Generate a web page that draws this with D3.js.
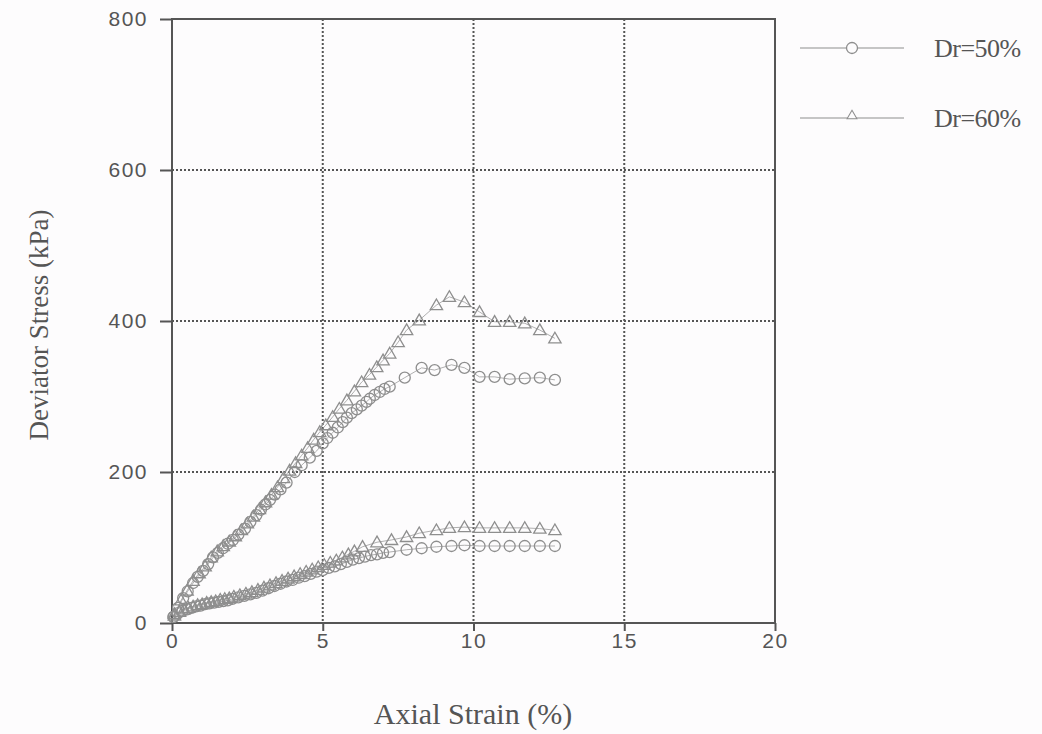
<!DOCTYPE html>
<html>
<head>
<meta charset="utf-8">
<script src="https://cdn.jsdelivr.net/npm/d3@7"></script>
<style>
	body { margin: 0; background: #fdfcfd; }
	svg { display: block; }
</style>
</head>
<body>
<svg id="chart" width="1042" height="734"></svg>
<script>
const xTicks = [0, 5, 10, 15, 20];
const yTicks = [0, 200, 400, 600, 800];

// Dr=50%, upper curve
const dr50HiStrain = [0.05, 0.2, 0.37, 0.52, 0.7, 0.85, 1.03, 1.2, 1.36, 1.52, 1.69, 1.85, 2.02, 2.2, 2.42, 2.6, 2.8, 2.95, 3.1, 3.25, 3.41, 3.6, 3.8, 4.07, 4.3, 4.57, 4.8, 5.0, 5.15, 5.33, 5.5, 5.66, 5.8, 5.96, 6.13, 6.29, 6.45, 6.56, 6.72, 6.89, 7.05, 7.22, 7.72, 8.28, 8.71, 9.27, 9.7, 10.2, 10.7, 11.2, 11.7, 12.2, 12.7];
const dr50HiStress = [8, 20, 33, 42, 53, 61, 69, 78, 87, 93, 99, 105, 110, 117, 125, 134, 143, 150, 157, 163, 170, 177, 186, 200, 209, 219, 228, 238, 245, 252, 259, 266, 272, 278, 283, 288, 293, 297, 302, 306, 310, 313, 325, 338, 335, 342, 338, 326, 326, 323, 324, 325, 322];

// Dr=50%, lower curve
const dr50LoStrain = [0.05, 0.2, 0.35, 0.5, 0.65, 0.8, 0.95, 1.1, 1.25, 1.4, 1.55, 1.7, 1.85, 2.0, 2.2, 2.4, 2.6, 2.8, 3.0, 3.2, 3.4, 3.6, 3.8, 4.0, 4.2, 4.4, 4.6, 4.8, 5.0, 5.2, 5.4, 5.6, 5.8, 6.0, 6.2, 6.4, 6.6, 6.8, 7.0, 7.22, 7.78, 8.28, 8.77, 9.27, 9.7, 10.2, 10.7, 11.2, 11.7, 12.2, 12.7];
const dr50LoStress = [8, 13, 16, 18, 20, 22, 23, 25, 26, 27, 28, 29, 30, 32, 34, 36, 38, 40, 43, 46, 49, 52, 55, 57, 60, 62, 65, 68, 70, 73, 75, 78, 81, 84, 86, 88, 90, 91, 93, 94, 97, 99, 101, 102, 103, 102, 102, 102, 102, 102, 102];

// Dr=60%, upper curve
const dr60HiStrain = [0.08, 0.3, 0.5, 0.7, 0.9, 1.1, 1.3, 1.5, 1.7, 1.9, 2.1, 2.3, 2.5, 2.7, 2.9, 3.1, 3.3, 3.5, 3.7, 3.9, 4.1, 4.3, 4.5, 4.7, 4.9, 5.1, 5.33, 5.55, 5.8, 6.05, 6.29, 6.55, 6.79, 7.0, 7.22, 7.5, 7.78, 8.2, 8.77, 9.2, 9.7, 10.2, 10.7, 11.2, 11.7, 12.2, 12.7];
const dr60HiStress = [12, 30, 43, 56, 66, 75, 87, 95, 102, 108, 115, 123, 132, 141, 151, 160, 170, 180, 192, 202, 212, 222, 232, 243, 253, 262, 273, 284, 295, 307, 319, 329, 339, 348, 357, 372, 388, 401, 421, 432, 425, 412, 399, 399, 397, 388, 377];

// Dr=60%, lower curve
const dr60LoStrain = [0.08, 0.25, 0.4, 0.55, 0.7, 0.85, 1.0, 1.15, 1.3, 1.45, 1.6, 1.75, 1.9, 2.05, 2.25, 2.45, 2.65, 2.85, 3.05, 3.25, 3.45, 3.65, 3.85, 4.05, 4.25, 4.45, 4.65, 4.85, 5.05, 5.25, 5.45, 5.65, 5.85, 6.05, 6.32, 6.8, 7.28, 7.78, 8.2, 8.77, 9.2, 9.7, 10.2, 10.7, 11.2, 11.7, 12.2, 12.7];
const dr60LoStress = [10, 15, 18, 20, 22, 24, 25, 27, 28, 29, 31, 32, 33, 35, 37, 39, 41, 44, 47, 50, 53, 56, 59, 62, 65, 68, 71, 74, 77, 80, 83, 87, 91, 95, 101, 107, 110, 114, 119, 123, 126, 127, 126, 126, 126, 126, 125, 123];

const legendLabels = ['Dr=50%', 'Dr=60%'];

const AXIS = '#555';
const MARK = '#8e8e8e';
const BG = '#fdfcfd';

const series = [
	{ strain: dr50HiStrain, stress: dr50HiStress, shape: 'circle' },
	{ strain: dr50LoStrain, stress: dr50LoStress, shape: 'circle' },
	{ strain: dr60HiStrain, stress: dr60HiStress, shape: 'triangle' },
	{ strain: dr60LoStrain, stress: dr60LoStress, shape: 'triangle' }
].map(s => ({ ...s, pts: s.strain.map((x, i) => ({ x, y: s.stress[i] })) }));

const svg = d3.select('#chart');

const x = d3.scaleLinear().domain([0, 20]).range([172, 775]);
const y = d3.scaleLinear().domain([0, 800]).range([623, 19]);

// grid
const grid = svg.append('g');
grid.selectAll('line.gx')
	.data(xTicks.slice(1, -1))
	.enter()
	.append('line')
	.attr('x1', d => x(d)).attr('x2', d => x(d))
	.attr('y1', y(800)).attr('y2', y(0))
	.attr('stroke', AXIS)
	.attr('stroke-width', 2)
	.attr('stroke-dasharray', '2,2');
grid.selectAll('line.gy')
	.data(yTicks.slice(1, -1))
	.enter()
	.append('line')
	.attr('x1', x(0)).attr('x2', x(20))
	.attr('y1', d => y(d)).attr('y2', d => y(d))
	.attr('stroke', AXIS)
	.attr('stroke-width', 2)
	.attr('stroke-dasharray', '2,2');

// frame
svg.append('rect')
	.attr('x', x(0)).attr('y', y(800))
	.attr('width', x(20) - x(0)).attr('height', y(0) - y(800))
	.attr('fill', 'none')
	.attr('stroke', AXIS)
	.attr('stroke-width', 2);

// axes
const xAxis = svg.append('g')
	.attr('transform', `translate(0,${y(0)})`)
	.call(d3.axisBottom(x).tickValues(xTicks).tickSize(8).tickPadding(2));
const yAxis = svg.append('g')
	.attr('transform', `translate(${x(0)},0)`)
	.call(d3.axisLeft(y).tickValues(yTicks).tickSize(12).tickPadding(12));

[xAxis, yAxis].forEach(a => {
	a.select('.domain').remove();
	a.selectAll('line').attr('stroke', AXIS).attr('stroke-width', 2);
	a.selectAll('text')
		.attr('fill', AXIS)
		.style('font-family', '"Liberation Sans", Arial, sans-serif')
		.style('font-size', '21px')
		.style('letter-spacing', '1.5px');
});

// titles
svg.append('text')
	.attr('x', 473).attr('y', 724)
	.attr('text-anchor', 'middle')
	.attr('fill', AXIS)
	.style('font-family', '"Liberation Serif", "Times New Roman", serif')
	.style('font-size', '30px')
	.text('Axial Strain (%)');
svg.append('text')
	.attr('transform', 'translate(48,325) rotate(-90)')
	.attr('text-anchor', 'middle')
	.attr('fill', AXIS)
	.style('font-family', '"Liberation Serif", "Times New Roman", serif')
	.style('font-size', '27px')
	.text('Deviator Stress (kPa)');

const tri = d3.symbol().type(d3.symbolTriangle).size(66);

function drawMarks(g, pts, shape) {
	if (shape === 'circle') {
		g.selectAll('circle')
			.data(pts)
			.enter()
			.append('circle')
			.attr('cx', d => x(d.x))
			.attr('cy', d => y(d.y))
			.attr('r', 5.5)
			.attr('fill', 'none')
			.attr('stroke', MARK)
			.attr('stroke-width', 1.3);
	} else {
		g.selectAll('path.m')
			.data(pts)
			.enter()
			.append('path')
			.attr('class', 'm')
			.attr('transform', d => `translate(${x(d.x)},${y(d.y) + 1})`)
			.attr('d', tri)
			.attr('fill', 'none')
			.attr('stroke', MARK)
			.attr('stroke-width', 1.3);
	}
}

const line = d3.line().x(d => x(d.x)).y(d => y(d.y));

series.forEach(s => {
	const g = svg.append('g');
	g.append('path')
		.attr('d', line(s.pts))
		.attr('fill', 'none')
		.attr('stroke', MARK)
		.attr('stroke-width', 0.7);
	drawMarks(g, s.pts, s.shape);
});

// legend
const legend = svg.append('g');
legendLabels.forEach((label, i) => {
	const ly = 48 + i * 70;
	const g = legend.append('g');
	g.append('line')
		.attr('x1', 800).attr('x2', 904)
		.attr('y1', ly).attr('y2', ly)
		.attr('stroke', MARK)
		.attr('stroke-width', 1.2);
	drawMarks(g, [{ x: x.invert(852), y: y.invert(ly) }], i === 0 ? 'circle' : 'triangle');
	g.select(i === 0 ? 'circle' : 'path.m')
		.attr('fill', BG)
		.attr('transform', function () {
			return i === 0 ? null : `translate(852,${ly - 2}) scale(0.8)`;
		});
	g.append('text')
		.attr('x', 934).attr('y', ly + 9)
		.attr('fill', AXIS)
		.style('font-family', '"Liberation Serif", "Times New Roman", serif')
		.style('font-size', '26px')
		.style('letter-spacing', '-0.5px')
		.text(label);
});
</script>
</body>
</html>
